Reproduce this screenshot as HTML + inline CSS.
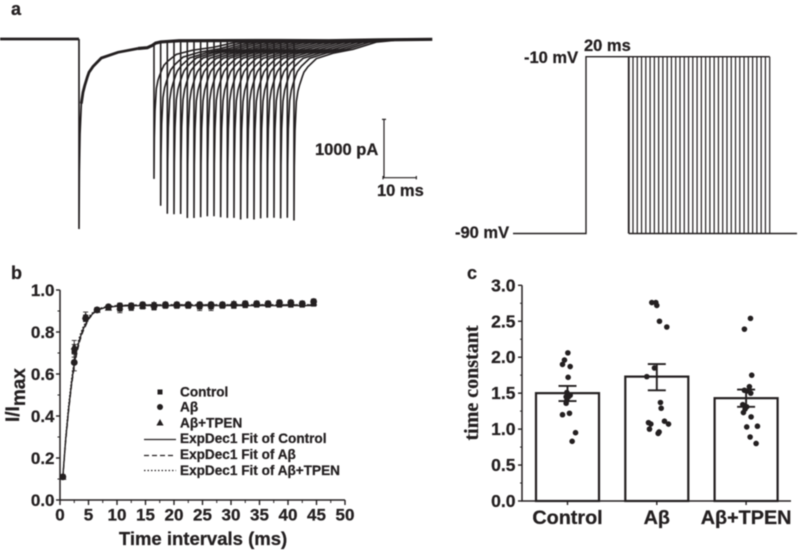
<!DOCTYPE html>
<html lang="en">
<head>
<meta charset="utf-8">
<title>Recovery from inactivation figure</title>
<style>
html,body{margin:0;padding:0;background:#fff;}
svg{display:block;filter:blur(0.4px);}
text{font-family:"Liberation Sans",sans-serif;font-weight:bold;fill:#231f20;stroke:#231f20;stroke-width:0.25px;}
</style>
</head>
<body>
<svg id="fig" width="800" height="550" viewBox="0 0 800 550" xmlns="http://www.w3.org/2000/svg">
  <rect width="800" height="550" fill="#fff"/>
  <text x="11" y="15" font-size="18">a</text>
  <text x="11" y="279" font-size="18">b</text>
  <text x="467" y="279" font-size="18">c</text>
  <g id="traces"></g>
  <g id="scalebar"></g>
  <text x="315" y="155" font-size="16.5">1000 pA</text>
  <text x="377" y="196" font-size="16.5">10 ms</text>
  <g id="protocol"></g>
  <text x="584" y="51" font-size="16.5">20 ms</text>
  <text x="524" y="63" font-size="16.5">-10 mV</text>
  <text x="455" y="238" font-size="16.5">-90 mV</text>

  <g id="plotB"></g>
  <text transform="translate(19,422) rotate(-90)" font-size="19">I/I<tspan dy="6">max</tspan></text>
  <text x="203" y="545" font-size="18.5" text-anchor="middle">Time intervals (ms)</text>
  <g id="legendB"></g>

  <g id="plotC"></g>
  <text transform="translate(478,383) rotate(-90)" font-size="20" text-anchor="middle" style="font-family:'Liberation Serif',serif">time constant</text>
</svg>
<script>
// ---- Panel a: currents ----
var firstPulseMs = 0;
var firstPeakPA = 3260;
var pulseMs = [22.5,24.5,26.5,28.5,30.5,32.5,34.5,36.5,38.5,40.5,42.5,44.5,46.5,48.5,50.5,52.5,54.5,56.5,58.5,60.5,62.5,64.5];
var peakPA = [2309,2811,2954,2971,2971,3040,3040,3029,3011,3011,3029,3040,3040,3069,3051,3069,3051,3040,3040,3051,3040,3086];
var decayMs = [0,0.1,0.3,0.7,1.2,1.7,2.5,3,4.2,6.7,11.7,17.7,24.7,30];
var decayFrac = [1,0.7,0.5,0.34,0.28,0.246,0.2,0.175,0.145,0.1,0.07,0.05,0.012,0.004];
var bandMs = [17.7,20.5,22,23,24.5,30,60,75,90,106];
var bandPA = [163,150,110,70,50,30,25,30,15,5];
// ---- Panel a: voltage protocol ----
var stepMs = [20,22,24,26,28,30,32,34,36,38,40,42,44,46,48,50,52,54,56,58,60,62,64,66,68,70,72,74,76,78,80,82,84,86];
// ---- Panel b: recovery ----
var timeMs = [0.5,2.5,4.5,6.5,8.5,10.5,12.5,14.5,16.5,18.5,20.5,22.5,24.5,26.5,28.5,30.5,32.5,34.5,36.5,38.5,40.5,42.5,44.5];
var controlVals = [0.11,0.71,0.865,0.905,0.915,0.91,0.918,0.922,0.92,0.925,0.925,0.925,0.92,0.92,0.925,0.925,0.928,0.93,0.93,0.93,0.93,0.93,0.935];
var abetaVals = [0.11,0.655,0.865,0.905,0.92,0.925,0.925,0.93,0.925,0.93,0.93,0.93,0.93,0.93,0.93,0.93,0.935,0.935,0.935,0.94,0.94,0.935,0.945];
var tpenVals = [0.11,0.73,0.875,0.905,0.915,0.92,0.925,0.925,0.93,0.93,0.93,0.93,0.93,0.93,0.93,0.935,0.935,0.935,0.935,0.935,0.94,0.935,0.94];
var controlErr = [0.005,0.03,0.015,0.01,0.01,0.018,0.015,0.012,0.015,0.012,0.012,0.012,0.018,0.018,0.012,0.012,0.012,0.012,0.012,0.012,0.012,0.012,0.012];
var abetaErr = [0.005,0.04,0.015,0.01,0.01,0.012,0.012,0.012,0.012,0.012,0.012,0.012,0.012,0.012,0.012,0.012,0.012,0.012,0.012,0.012,0.012,0.012,0.012];
var tpenErr = [0.005,0.03,0.02,0.01,0.01,0.01,0.01,0.01,0.01,0.01,0.01,0.01,0.01,0.01,0.01,0.01,0.01,0.01,0.01,0.01,0.01,0.01,0.01];
var fitMs = [0.5,1,1.5,2,2.5,3,3.5,4,5,6,7,8,10,12,15,20,45];
var fitControl = [0.11,0.29,0.43,0.55,0.65,0.72,0.77,0.81,0.865,0.895,0.91,0.917,0.923,0.925,0.926,0.926,0.926];
var fitAbeta = [0.11,0.28,0.42,0.54,0.635,0.705,0.76,0.80,0.86,0.892,0.908,0.917,0.925,0.928,0.929,0.929,0.929];
var fitTpen = [0.11,0.30,0.45,0.57,0.665,0.735,0.785,0.82,0.872,0.90,0.913,0.92,0.926,0.928,0.929,0.93,0.93];
var xTicksB = [0,5,10,15,20,25,30,35,40,45,50];
var yTicksB = [0,0.2,0.4,0.6,0.8,1];
var xMinorB = [2.5,7.5,12.5,17.5,22.5,27.5,32.5,37.5,42.5,47.5];
var yMinorB = [0.1,0.3,0.5,0.7,0.9];
// ---- Panel c: bars ----
var groups = ["Control","A\u03b2","A\u03b2+TPEN"];
var means = [1.5,1.73,1.43];
var errLow = [1.39,1.54,1.31];
var errHigh = [1.6,1.905,1.55];
var dotsControl = [2.06,1.96,1.9,1.87,1.72,1.51,1.47,1.45,1.45,1.4,1.36,1.2,1.22,0.95,0.83];
var jitterControl = [0.004,-0.034,-0.056,0.03,0.007,-0.007,0.03,-0.015,0.011,-0.007,-0.015,-0.056,0.022,0.09,0.052];
var dotsAbeta = [2.76,2.76,2.72,2.5,2.42,1.85,1.73,1.37,1.29,1.09,1.07,1.11,1.07,1,0.96,0.94];
var jitterAbeta = [-0.056,-0.011,0,0.03,0.112,-0.026,-0.112,0.041,0.049,-0.093,-0.067,0.086,0.131,-0.082,0.026,0.015];
var dotsTpen = [2.54,2.39,1.75,1.59,1.54,1.53,1.5,1.34,1.31,1.28,1.23,1.17,1.03,1.04,0.89,0.8];
var jitterTpen = [0.049,-0.019,0.063,0.037,-0.019,0.007,0.052,-0.037,0.007,-0.011,-0.03,0.056,0.007,0.127,0.045,0.112];
var yTicksC = [0,0.5,1,1.5,2,2.5,3];
var yMinorC = [0.25,0.75,1.25,1.75,2.25,2.75];

var NS = "http://www.w3.org/2000/svg";
var INK = "#231f20";
function mk(parent, tag, attrs, txt) {
  var n = document.createElementNS(NS, tag);
  for (var k in attrs) n.setAttribute(k, attrs[k]);
  if (txt !== undefined) n.textContent = txt;
  parent.appendChild(n);
  return n;
}
function interp(xs, ys, x) {
  if (x <= xs[0]) return ys[0];
  for (var i = 1; i < xs.length; i++) {
    if (x <= xs[i]) return ys[i-1] + (ys[i]-ys[i-1]) * (x-xs[i-1]) / (xs[i]-xs[i-1]);
  }
  return ys[ys.length-1];
}
function poly(pts) { return "M" + pts.map(function(p){return p[0].toFixed(2)+" "+p[1].toFixed(2);}).join("L"); }

// Panel a axes
function xA(ms) { return 79 + 3.333 * ms; }
function yA(pA) { return 39 + 0.0583 * pA; }
var traces = document.getElementById("traces");

var baseLine = mk(traces, "path", {d: poly([[xA(-23.7), yA(0)], [xA(firstPulseMs), yA(0)]]), fill:"none", stroke:INK, "stroke-width":2.8});



var firstPts = [[xA(firstPulseMs), yA(0)]];
decayMs.forEach(function(d, i){ if (d <= 17.7) firstPts.push([xA(firstPulseMs + d), yA(firstPeakPA * decayFrac[i])]); });
var firstStem = mk(traces, "path", {d: poly(firstPts), fill:"none", stroke:INK, "stroke-width":1.7});



var firstTail = [];
decayMs.forEach(function(d, i){ if (d >= 0.7 && d <= 17.7) firstTail.push([xA(firstPulseMs + d), yA(firstPeakPA * decayFrac[i])]); });
var firstThick = mk(traces, "path", {d: poly(firstTail), fill:"none", stroke:INK, "stroke-width":2.8});



var bandPts = bandMs.map(function(t, i){ return [xA(t), yA(bandPA[i])]; });
var band = mk(traces, "path", {d: poly(bandPts), fill:"none", stroke:INK, "stroke-width":3.2});



pulseMs.forEach(function(t0, i) {
  var pts = [[xA(t0), yA(interp(bandMs, bandPA, t0))]];
  decayMs.forEach(function(d, j) {
    pts.push([xA(t0 + d), yA(interp(bandMs, bandPA, t0 + d) + peakPA[i] * decayFrac[j])]);
  });
  var sweep = mk(traces, "path", {d: poly(pts), fill:"none", stroke: INK, "stroke-width":1.6});
  
  
});

// Scale bar
var sb = document.getElementById("scalebar");
var sbV = mk(sb, "path", {d:"M384 "+(177.7-0.0583*1000)+"V177.7M382 "+(177.7-0.0583*1000)+"H386", fill:"none", stroke:INK, "stroke-width":1.2});


var sbH = mk(sb, "path", {d:"M383 177.7H"+(383+3.333*10)+"M383 176V179.4M"+(383+3.333*10)+" 176V179.4", fill:"none", stroke:INK, "stroke-width":1.2});



// Voltage protocol
function xV(ms) { return 586 + 2.136 * ms; }
function yV(mV) { return 56.7 + (-10 - mV) * 2.21; }
var prot = document.getElementById("protocol");
var lastStep = stepMs[stepMs.length-1];
var stepOut = mk(prot, "path", {d: poly([[513,yV(-90)],[xV(0),yV(-90)],[xV(0),yV(-10)],[xV(lastStep),yV(-10)]]), fill:"none", stroke:INK, "stroke-width":1.4});


var stepBase = mk(prot, "path", {d: poly([[xV(stepMs[0]),yV(-90)],[797,yV(-90)]]), fill:"none", stroke:INK, "stroke-width":1.4});


stepMs.forEach(function(t, i) {
  var l = mk(prot, "line", {x1:xV(t), x2:xV(t), y1:yV(-10), y2:yV(-90), stroke: INK, "stroke-width": i === 0 ? 1.8 : 1.2});
  
  
});

// Panel b
function xB(v) { return 60 + v * 5.7; }
function yB(v) { return 500 - v * 210; }
var pB = document.getElementById("plotB");
var axB = mk(pB, "path", {d:"M"+xB(50)+" "+yB(0)+"H"+xB(0)+"V"+yB(1), fill:"none", stroke:INK, "stroke-width":1.5});


xTicksB.forEach(function(v) {
  var t = mk(pB, "line", {x1:xB(v), x2:xB(v), y1:yB(0), y2:yB(0)+5, stroke:INK, "stroke-width":1.4});
  
  
  var l = mk(pB, "text", {x:xB(v), y:520.5, "font-size":17, "text-anchor":"middle"}, String(v));
  
  
});
xMinorB.forEach(function(v) {
  var t = mk(pB, "line", {x1:xB(v), x2:xB(v), y1:yB(0), y2:yB(0)+3, stroke:INK, "stroke-width":1});
  
  
});
yTicksB.forEach(function(v) {
  var t = mk(pB, "line", {x1:xB(0)-4, x2:xB(0), y1:yB(v), y2:yB(v), stroke:INK, "stroke-width":1.4});
  
  
  var l = mk(pB, "text", {x:54.5, y:yB(v)+6, "font-size":17, "text-anchor":"end"}, v.toFixed(1));
  
  
});
yMinorB.forEach(function(v) {
  var t = mk(pB, "line", {x1:xB(0)-2.5, x2:xB(0), y1:yB(v), y2:yB(v), stroke:INK, "stroke-width":1});
  
  
});

function fitPts(vals) { return fitMs.map(function(t, i){ return [xB(t), yB(vals[i])]; }); }
var f1 = mk(pB, "path", {d:poly(fitPts(fitControl)), fill:"none", stroke:INK, "stroke-width":1.4});


var f2 = mk(pB, "path", {d:poly(fitPts(fitAbeta)), fill:"none", stroke:INK, "stroke-width":1.2, "stroke-dasharray":"5 3"});


var f3 = mk(pB, "path", {d:poly(fitPts(fitTpen)), fill:"none", stroke:INK, "stroke-width":1.2, "stroke-dasharray":"1.5 2"});



function errPath(x, v, e) {
  return "M"+x+" "+yB(v-e)+"V"+yB(v+e)+"M"+(x-2.5)+" "+yB(v-e)+"H"+(x+2.5)+"M"+(x-2.5)+" "+yB(v+e)+"H"+(x+2.5);
}
timeMs.forEach(function(t, i) {
  var x = xB(t);
  var e1 = mk(pB, "path", {d:errPath(x, controlVals[i], controlErr[i]), fill:"none", stroke:INK, "stroke-width":0.9});
  
  
  var m1 = mk(pB, "rect", {x:x-2.7, y:yB(controlVals[i])-2.7, width:5.4, height:5.4, fill:INK});
  
  
  var e2 = mk(pB, "path", {d:errPath(x, abetaVals[i], abetaErr[i]), fill:"none", stroke:INK, "stroke-width":0.9});
  
  
  var m2 = mk(pB, "circle", {cx:x, cy:yB(abetaVals[i]), r:3.4, fill:INK});
  
  
  var e3 = mk(pB, "path", {d:errPath(x, tpenVals[i], tpenErr[i]), fill:"none", stroke:INK, "stroke-width":0.9});
  
  
  var ty = yB(tpenVals[i]);
  var m3 = mk(pB, "path", {d:"M"+x+" "+(ty-3.8)+"L"+(x+3.6)+" "+(ty+2.8)+"H"+(x-3.6)+"Z", fill:INK});
  
  
});

// Legend
var lg = document.getElementById("legendB");
var legendLabels = ["Control","A\u03b2","A\u03b2+TPEN","ExpDec1 Fit of Control","ExpDec1 Fit of A\u03b2","ExpDec1 Fit of A\u03b2+TPEN"];
var lgBase = [396.5,411.5,427.5,443,459,475];
legendLabels.forEach(function(s, i) {
  var t = mk(lg, "text", {x:180, y:lgBase[i], "font-size":13.6}, s);
  
  
});
var lk1 = mk(lg, "rect", {x:157.5, y:389.5, width:5, height:5, fill:INK});


var lk2 = mk(lg, "circle", {cx:160, cy:407, r:3, fill:INK});


var lk3 = mk(lg, "path", {d:"M160 419L163.6 425.5H156.4Z", fill:INK});


var ll1 = mk(lg, "line", {x1:144, x2:176, y1:439.5, y2:439.5, stroke:INK, "stroke-width":1.3});


var ll2 = mk(lg, "line", {x1:144, x2:176, y1:455.5, y2:455.5, stroke:INK, "stroke-width":1.3, "stroke-dasharray":"5 3"});


var ll3 = mk(lg, "line", {x1:144, x2:176, y1:470.5, y2:470.5, stroke:INK, "stroke-width":1.3, "stroke-dasharray":"1.5 2"});



// Panel c
function xC(i) { return 567.5 + i * 89.3; }
function yC(v) { return 501 - v * 71.9; }
var BAR_W = 63;
var pC = document.getElementById("plotC");
groups.forEach(function(g, i) {
  var b = mk(pC, "rect", {x:xC(i)-BAR_W/2, y:yC(means[i]), width:BAR_W, height:yC(0)-yC(means[i]), fill:"#fff", stroke:INK, "stroke-width":2.2});
  
  
});
var axC = mk(pC, "path", {d:"M791 "+yC(0)+"H522V"+yC(3), fill:"none", stroke:INK, "stroke-width":1.5});


yTicksC.forEach(function(v) {
  var t = mk(pC, "line", {x1:518, x2:522, y1:yC(v), y2:yC(v), stroke:INK, "stroke-width":1.4});
  
  
  var l = mk(pC, "text", {x:515.5, y:yC(v)+6, "font-size":17.5, "text-anchor":"end"}, v.toFixed(1));
  
  
});
yMinorC.forEach(function(v) {
  var t = mk(pC, "line", {x1:520, x2:522, y1:yC(v), y2:yC(v), stroke:INK, "stroke-width":1});
  
  
});
groups.forEach(function(g, i) {
  var t = mk(pC, "line", {x1:xC(i), x2:xC(i), y1:yC(0), y2:yC(0)+4, stroke:INK, "stroke-width":1.4});
  
  
  var l = mk(pC, "text", {x:xC(i), y:524, "font-size":19.8, "text-anchor":"middle"}, g);
  
  
  var e = mk(pC, "path", {d:"M"+xC(i)+" "+yC(errLow[i])+"V"+yC(errHigh[i])+"M"+(xC(i)-9)+" "+yC(errLow[i])+"H"+(xC(i)+9)+"M"+(xC(i)-9)+" "+yC(errHigh[i])+"H"+(xC(i)+9), fill:"none", stroke:INK, "stroke-width":1.9});
  
  
});
[[dotsControl,jitterControl],[dotsAbeta,jitterAbeta],[dotsTpen,jitterTpen]].forEach(function(set, i) {
  set[0].forEach(function(v, j) {
    var d = mk(pC, "circle", {cx:xC(i + set[1][j]), cy:yC(v), r:2.8, fill:INK});
    
    
  });
});
</script>
</body>
</html>
